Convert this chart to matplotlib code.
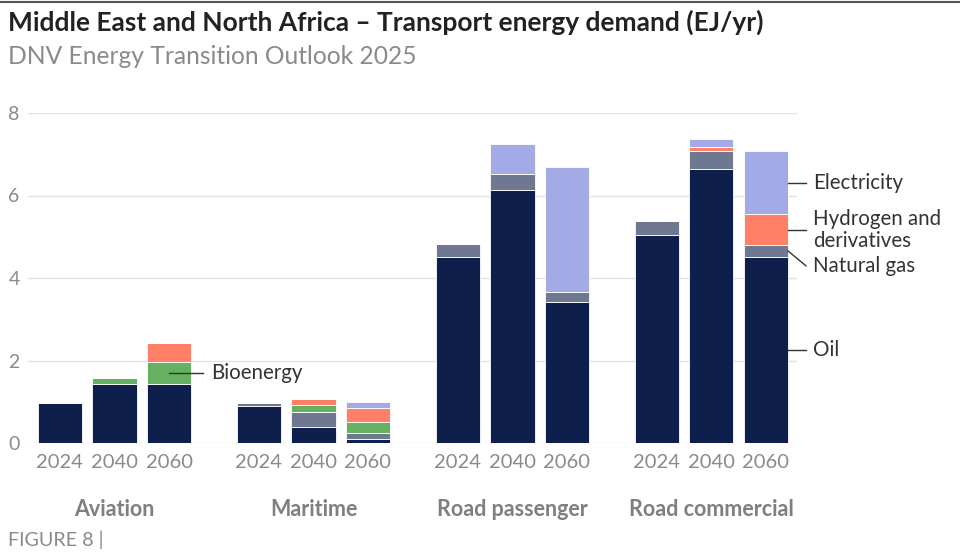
import matplotlib.pyplot as plt
import matplotlib.transforms as mtransforms
import numpy as np

plt.rcParams['font.family'] = ['Lato', 'DejaVu Sans']

groups = ["Aviation", "Maritime", "Road passenger", "Road commercial"]
years = ["2024", "2040", "2060"]

# EJ/yr, one value per bar: Aviation x3, Maritime x3, Road passenger x3, Road commercial x3
oil = [0.98, 1.44, 1.42, 0.90, 0.39, 0.09, 4.52, 6.13, 3.43, 5.05, 6.64, 4.51]
natural_gas = [0.0, 0.0, 0.0, 0.08, 0.36, 0.15, 0.30, 0.40, 0.22, 0.34, 0.44, 0.29]
bioenergy = [0.0, 0.14, 0.54, 0.0, 0.16, 0.27, 0.0, 0.0, 0.0, 0.0, 0.0, 0.0]
hydrogen = [0.0, 0.0, 0.46, 0.0, 0.15, 0.35, 0.0, 0.0, 0.0, 0.0, 0.10, 0.74]
electricity = [0.0, 0.0, 0.0, 0.0, 0.0, 0.14, 0.0, 0.72, 3.03, 0.0, 0.18, 1.53]

series = [
    ("Oil", oil, "#0f1f4b"),
    ("Natural gas", natural_gas, "#6e7891"),
    ("Bioenergy", bioenergy, "#66b062"),
    ("Hydrogen and\nderivatives", hydrogen, "#ff8066"),
    ("Electricity", electricity, "#a3abe6"),
]

fig = plt.figure(figsize=(9.6, 5.53), dpi=100)
ax = fig.add_axes([28 / 960, 1 - 443 / 553, (797 - 28) / 960, 330 / 553])

x = np.array([g * 3.65 + j for g in range(4) for j in range(3)])
width = 0.81
bottom = np.zeros(len(x))
mids = {}
for name, vals, color in series:
    vals = np.array(vals)
    ax.bar(x, vals, width, bottom=bottom, color=color, edgecolor="white", linewidth=0.6, zorder=3)
    mids[name] = bottom + vals / 2
    bottom = bottom + vals

ax.set_ylim(0, 8)
ax.set_xlim(-0.587, 13.52)
ax.set_yticks([0, 2, 4, 6, 8])
ax.yaxis.grid(True, color="#e3e3e3", linewidth=1, zorder=0)
ax.set_axisbelow(True)
for s in ax.spines.values():
    s.set_visible(False)
ax.tick_params(axis="y", length=0, pad=6, labelsize=14, labelcolor="#8a8a8a")
ax.set_xticks(x)
ax.set_xticklabels(years * 4)
ax.tick_params(axis="x", length=0, pad=8, labelsize=14.5, labelcolor="#8a8a8a")

trans = mtransforms.blended_transform_factory(ax.transData, fig.transFigure)
for g, name in enumerate(groups):
    ax.text(g * 3.65 + 1, 1 - 510 / 553, name, transform=trans, ha="center", va="center",
            fontsize=15.5, fontweight="bold", color="#7f7f7f")

# labels on the right of the last bar
lc = "#333333"
fs = 14.8
xr = x[-1] + width / 2
for name in ["Oil", "Hydrogen and\nderivatives", "Electricity"]:
    yv = mids[name][-1]
    ax.plot([xr, xr + 0.33], [yv, yv], color=lc, linewidth=1, clip_on=False, zorder=4)
    ax.text(xr + 0.46, yv, name, ha="left", va="center", fontsize=fs, color=lc,
            linespacing=1.15, clip_on=False)
yv = mids["Natural gas"][-1]
ax.plot([xr, xr + 0.33], [yv, yv - 0.36], color=lc, linewidth=1, clip_on=False, zorder=4)
ax.text(xr + 0.46, yv - 0.36, "Natural gas", ha="left", va="center", fontsize=fs, color=lc)

yv = mids["Bioenergy"][2]
ax.plot([x[2], x[2] + 0.62], [yv, yv], color=lc, linewidth=1, zorder=4)
ax.text(x[2] + 0.77, yv, "Bioenergy", ha="left", va="center", fontsize=fs, color=lc)

fig.add_artist(plt.Line2D([0, 1], [1 - 1.5 / 553, 1 - 1.5 / 553], color="#555555", linewidth=1.5))
fig.text(8 / 960, 1 - 22 / 553, "Middle East and North Africa \u2013 Transport energy demand (EJ/yr)",
         ha="left", va="center", fontsize=19, fontweight="bold", color="#222222")
fig.text(8 / 960, 1 - 57 / 553, "DNV Energy Transition Outlook 2025",
         ha="left", va="center", fontsize=17.7, color="#8a8a8a")
fig.text(8 / 960, 1 - 540 / 553, "FIGURE 8 |", ha="left", va="center", fontsize=14.2, color="#8a8a8a")

fig.savefig("out.png", dpi=100)
